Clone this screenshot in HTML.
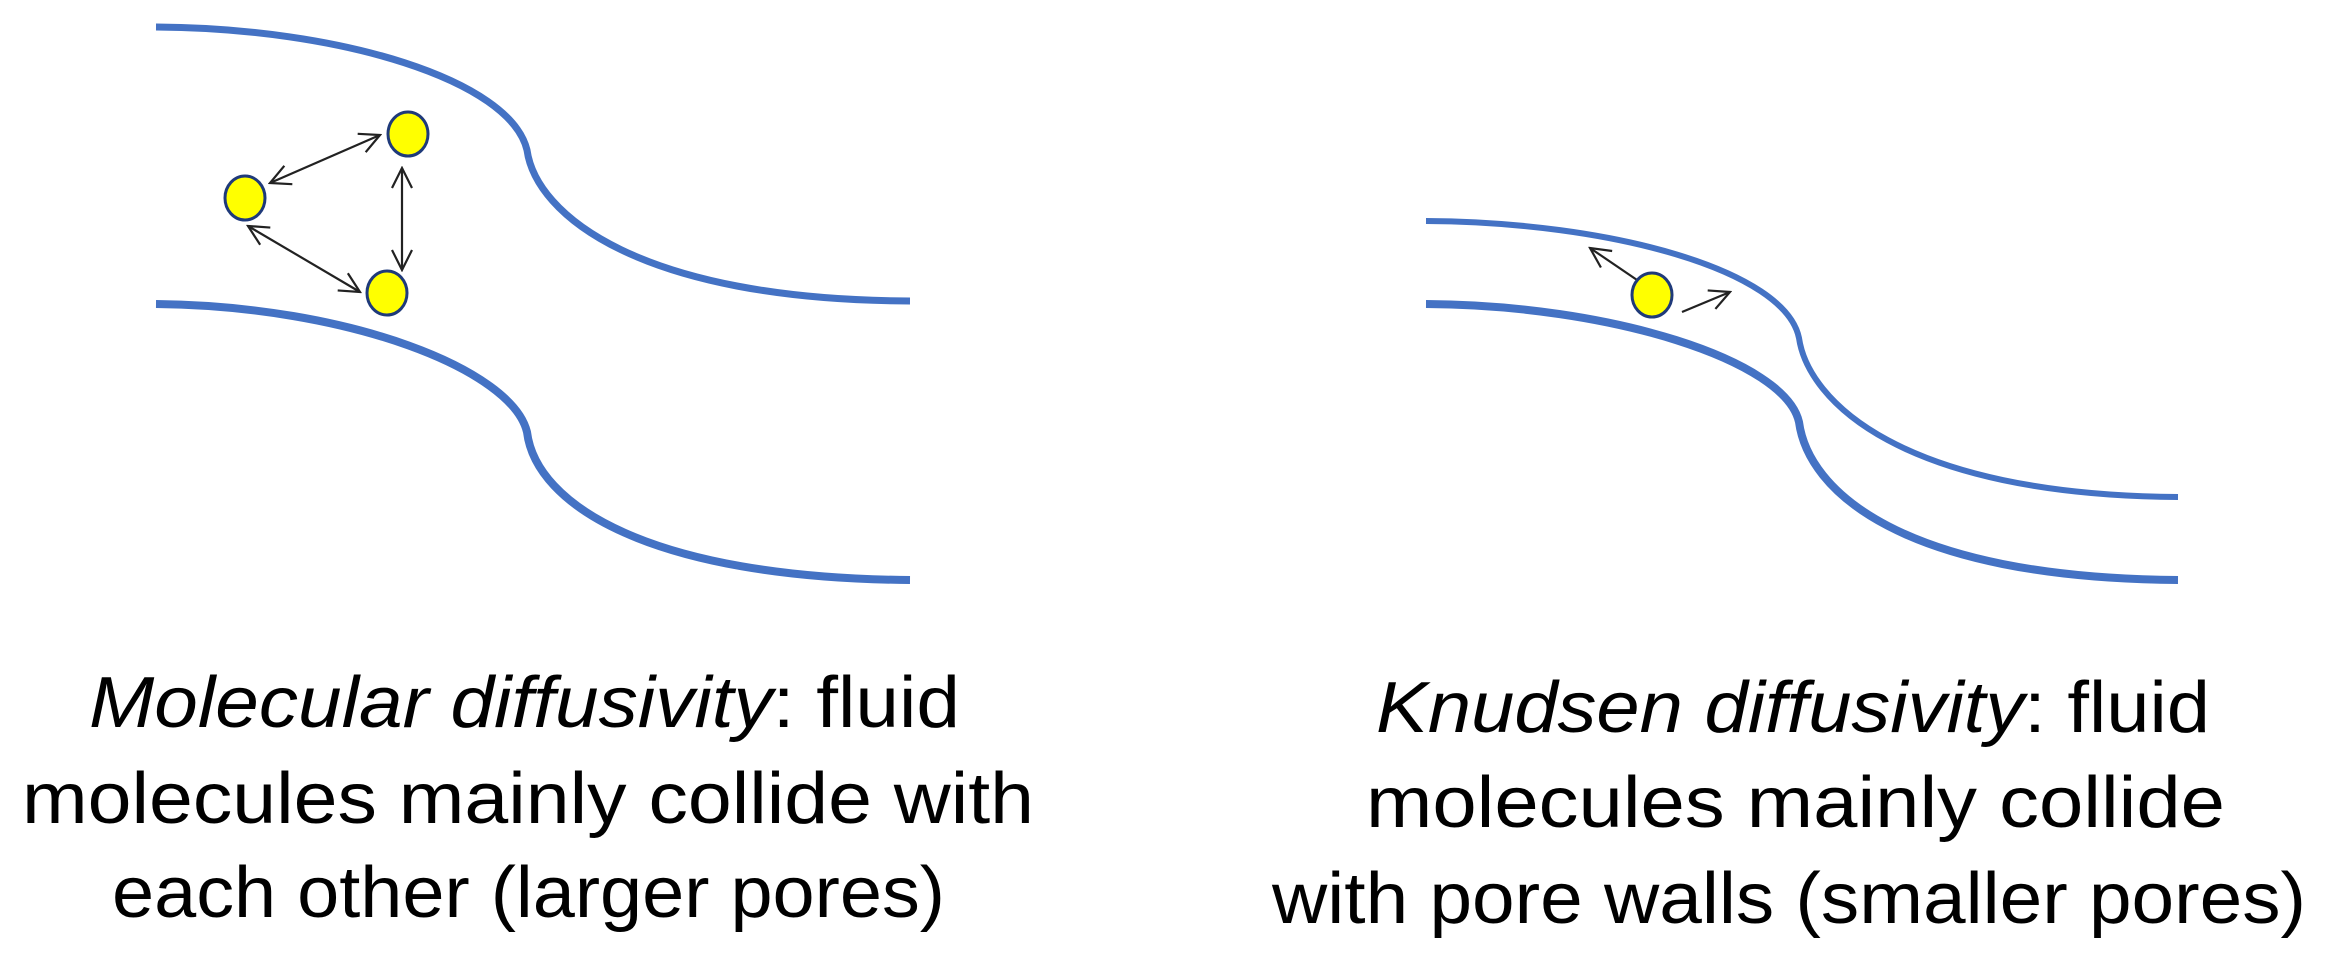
<!DOCTYPE html>
<html><head><meta charset="utf-8"><style>html,body{margin:0;padding:0;background:#fff}svg{display:block}</style></head>
<body>
<svg width="2335" height="968" viewBox="0 0 2335 968" xmlns="http://www.w3.org/2000/svg">
<defs>
<marker id="ah" viewBox="0 0 24 24" refX="22" refY="12" markerWidth="24" markerHeight="24" markerUnits="userSpaceOnUse" orient="auto-start-reverse">
<path d="M2,2 L22,12 L2,22" fill="none" stroke="#222" stroke-width="2.2"/>
</marker>
</defs>
<g fill="none" stroke="#4472C4" stroke-linecap="butt">
<path d="M156,27 C340,28 510,80 527,150 C536,215 640,300 910,301" stroke-width="7"/>
<path d="M156,304 C350,306 512,370 527,432 C536,505 650,578 910,580" stroke-width="8"/>
<path d="M1426,221 C1610,222 1785,270 1799,338 C1808,400 1900,495 2178,497" stroke-width="6"/>
<path d="M1426,304 C1610,305 1785,360 1799,422 C1808,490 1900,578 2178,580" stroke-width="8"/>
</g>
<g stroke="#222" stroke-width="2.2" fill="none">
<line x1="270" y1="183" x2="380" y2="135" marker-start="url(#ah)" marker-end="url(#ah)"/>
<line x1="402" y1="168" x2="402" y2="270" marker-start="url(#ah)" marker-end="url(#ah)"/>
<line x1="248" y1="226" x2="360" y2="292" marker-start="url(#ah)" marker-end="url(#ah)"/>
<line x1="1640" y1="282" x2="1590" y2="248" marker-end="url(#ah)"/>
<line x1="1682" y1="312" x2="1730" y2="292" marker-end="url(#ah)"/>
</g>
<g fill="#FFFF00" stroke="#1F3A7A" stroke-width="3">
<ellipse cx="245" cy="198" rx="20" ry="22"/>
<ellipse cx="408" cy="134" rx="20" ry="22"/>
<ellipse cx="387" cy="293" rx="20" ry="22"/>
<ellipse cx="1652" cy="295" rx="20" ry="22"/>
</g>
<g font-family="Liberation Sans, sans-serif" font-size="72" fill="#000">
<text x="89" y="727" textLength="871" lengthAdjust="spacingAndGlyphs"><tspan font-style="italic">Molecular diffusivity</tspan>: fluid</text>
<text x="22" y="823" textLength="1012" lengthAdjust="spacingAndGlyphs">molecules mainly collide with</text>
<text x="112" y="917" textLength="833" lengthAdjust="spacingAndGlyphs">each other (larger pores)</text>
<text x="1376" y="732" textLength="834" lengthAdjust="spacingAndGlyphs"><tspan font-style="italic">Knudsen diffusivity</tspan>: fluid</text>
<text x="1366" y="827" textLength="859" lengthAdjust="spacingAndGlyphs">molecules mainly collide</text>
<text x="1272" y="923" textLength="1034" lengthAdjust="spacingAndGlyphs">with pore walls (smaller pores)</text>
</g>
</svg>
</body></html>
